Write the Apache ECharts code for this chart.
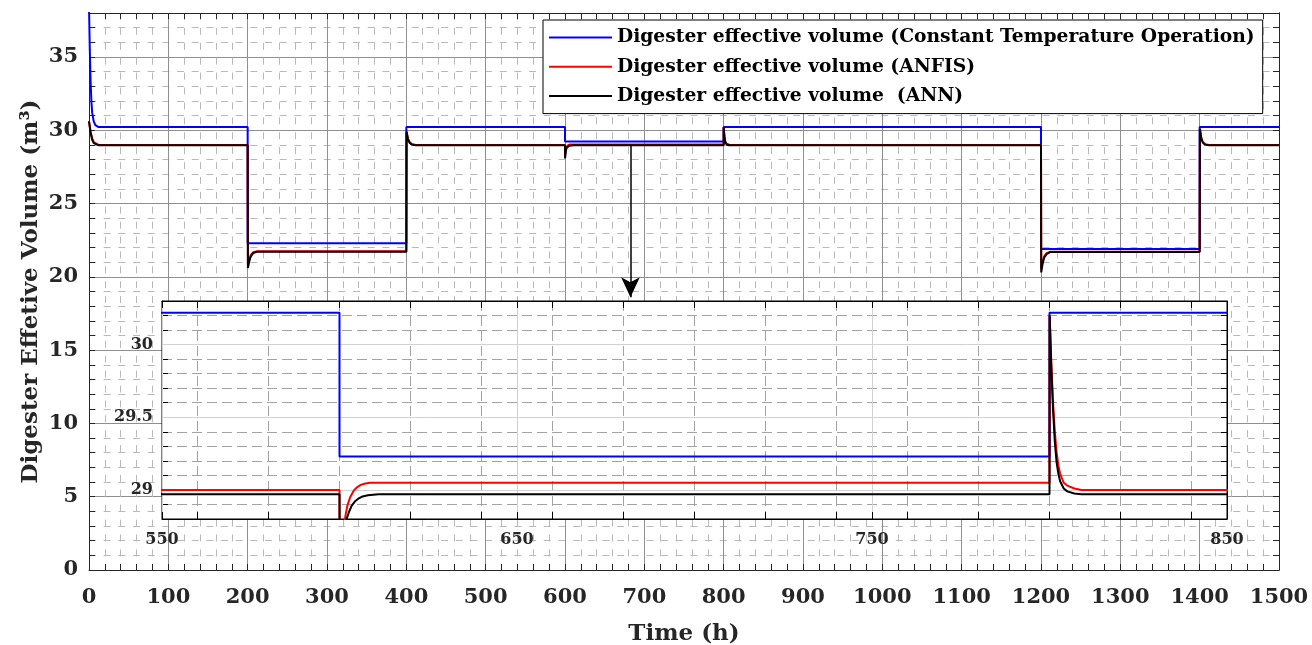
<!DOCTYPE html>
<html><head><meta charset="utf-8">
<script src="https://cdn.jsdelivr.net/npm/echarts@6/dist/echarts.min.js"></script>
<style>html,body{margin:0;padding:0;background:#fff}#c{width:1312px;height:645px}</style>
</head><body><div id="c"></div>
<script>
// ---------- data ----------
const seriesNames = [
  'Digester effective volume (Constant Temperature Operation)',
  'Digester effective volume (ANFIS)',
  'Digester effective volume  (ANN)'
];
const seriesColors = ['#0000ff', '#ff0000', '#000000'];

const constTempData = [
  [0,38.5],[1,35.5],[2,33.4],[3,32.0],[4,31.2],[6,30.6],[8,30.35],[12,30.22],
  [200,30.22],[200,22.3],[400,22.3],[400,30.22],[600,30.22],[600,29.23],
  [800,29.23],[800,30.22],[1200,30.22],[1200,21.9],[1400,21.9],[1400,30.22],[1500,30.22]
];
const anfisData = [
  [0,30.6],[2,29.9],[4,29.45],[6,29.2],[8,29.07],[12,29.0],
  [200,29.0],[200.3,20.8],[202,21.2],[204,21.5],[207,21.68],[212,21.75],
  [400,21.75],[400.3,29.9],[402,29.45],[404,29.2],[407,29.06],[412,29.0],
  [600,29.0],[600.1,28.3],[601,28.6],[601.6,28.81],[602.2,28.89],[603,28.95],[604,28.995],
  [605,29.02],[606,29.035],[607,29.043],[608.5,29.05],
  [800,29.05],[800.05,30.2],[800.5,29.88],[801,29.6],[801.5,29.4],[802,29.26],[802.5,29.17],
  [803,29.11],[804,29.05],[805,29.03],[807,29.01],[809,29.0],
  [1200,29.0],[1200.3,20.5],[1202,21.0],[1204,21.4],[1207,21.62],[1212,21.72],
  [1400,21.72],[1400.3,30.1],[1402,29.5],[1404,29.2],[1407,29.05],[1412,29.0],[1500,29.0]
];
const annData = [
  [0,30.6],[2,29.85],[4,29.35],[6,29.12],[8,29.02],[12,28.97],
  [200,28.97],[200.3,20.6],[202,21.05],[204,21.4],[207,21.62],[212,21.72],
  [400,21.72],[400.3,29.9],[402,29.4],[404,29.15],[407,29.02],[412,28.97],
  [600,28.97],[600.1,28.08],[601,28.55],[602,28.8],[602.7,28.85],[603.4,28.89],[604.3,28.92],
  [605.3,28.94],[606.5,28.955],[608,28.963],[611,28.97],
  [800,28.97],[800.05,30.2],[800.5,29.85],[801,29.55],[801.5,29.33],[802,29.19],[802.5,29.11],
  [803,29.06],[804,29.01],[805,28.99],[807,28.975],[809,28.97],
  [1200,28.97],[1200.3,20.3],[1202,20.9],[1204,21.3],[1207,21.55],[1212,21.7],
  [1400,21.7],[1400.3,30.1],[1402,29.45],[1404,29.15],[1407,29.02],[1412,28.97],[1500,28.97]
];
const arrowX = 682.5;
const arrowY = [28.97, 18.6];

// axis ranges
const mainX = [0, 1500], mainXStep = 100;
const mainY = [0, 38], mainYStep = 5, mainYMinor = 1;
const insetX = [550, 850], insetXStep = 100;
const insetXMinor = [560, 840], insetXMinorStep = 20;
const insetY = [28.8, 30.3], insetYMinorStep = 0.1;
const insetYMajor = [29, 30], insetYStep = 0.5;

// ---------- style ----------
const SERIF = "'DejaVu Serif', serif";
const AX = '#262626';
const MAJ = '#8f8f8f', MIN = '#b9b9b9';
const IMAJ = '#d2d2d2', IMIN = '#a3a3a3';

function tickAxis(extra) {
  return Object.assign({
    type: 'value',
    axisLine: { show: true, onZero: false, lineStyle: { color: AX, width: 1 } },
    axisTick: { show: true, inside: true, length: 6, lineStyle: { color: AX } },
    axisLabel: { show: false },
    splitLine: { show: false }
  }, extra);
}

const chart = echarts.init(document.getElementById('c'), null, { renderer: 'canvas' });

const option = {
  animation: false,
  backgroundColor: '#fff',
  grid: [
    { left: 89, right: 33, top: 13, bottom: 75, z: 0, containLabel: false, outerBoundsMode: 'none' },
    { left: 162, right: 85, top: 301, bottom: 126, show: true, backgroundColor: '#fff', borderColor: '#000', borderWidth: 1, z: 3, containLabel: false, outerBoundsMode: 'none' },
    { left: 197.5, right: 120.5, top: 301, bottom: 126, z: 3, containLabel: false, outerBoundsMode: 'none' },
    { left: 162, right: 85, top: 344.6, bottom: 155.1, z: 3, containLabel: false, outerBoundsMode: 'none' }
  ],
  legend: {
    data: seriesNames,
    orient: 'vertical',
    left: 543, top: 20,
    padding: [8, 8, 8, 6],
    itemGap: 10.3,
    itemWidth: 63, itemHeight: 2,
    icon: 'rect',
    backgroundColor: '#fff',
    borderColor: '#000', borderWidth: 1,
    textStyle: { fontFamily: SERIF, fontWeight: 'bold', fontSize: 18.7, color: '#000' },
    z: 10
  },
  xAxis: [
    tickAxis({ gridIndex: 0, position: 'bottom', min: mainX[0], max: mainX[1], interval: mainXStep,
      minorTick: { show: true, splitNumber: 5, length: 6, lineStyle: { color: AX } },
      splitLine: { show: true, lineStyle: { color: MAJ, width: 1 } },
      minorSplitLine: { show: true, lineStyle: { color: MIN, width: 1, type: [7, 7.9] } },
      axisLabel: { show: true, margin: 17, fontFamily: SERIF, fontWeight: 'bold', fontSize: 21, color: AX,
        formatter: v => String(v) },
      name: 'Time (h)', nameLocation: 'middle', nameGap: 53,
      nameTextStyle: { fontFamily: SERIF, fontWeight: 'bold', fontSize: 23, color: AX }, z: 1 }),
    tickAxis({ gridIndex: 0, position: 'top', min: mainX[0], max: mainX[1], interval: mainXStep,
      minorTick: { show: true, splitNumber: 5, length: 6, lineStyle: { color: AX } }, z: 1 }),
    tickAxis({ gridIndex: 1, position: 'bottom', min: insetX[0], max: insetX[1], interval: insetXStep,
      axisTick: { show: true, inside: true, length: 7, lineStyle: { color: '#000' } },
      axisLine: { show: true, onZero: false, lineStyle: { color: '#000' } },
      splitLine: { show: true, lineStyle: { color: IMAJ, width: 1 } },
      axisLabel: { show: true, margin: 13, fontFamily: SERIF, fontWeight: 'bold', fontSize: 16, color: AX,
        formatter: v => String(v) }, z: 5 }),
    tickAxis({ gridIndex: 1, position: 'top', min: insetX[0], max: insetX[1], interval: insetXStep,
      axisTick: { show: true, inside: true, length: 7, lineStyle: { color: '#000' } },
      axisLine: { show: true, onZero: false, lineStyle: { color: '#000' } }, z: 5 }),
    tickAxis({ gridIndex: 2, position: 'bottom', min: insetXMinor[0], max: insetXMinor[1], interval: insetXMinorStep,
      axisLine: { show: false, onZero: false },
      axisTick: { show: true, inside: true, length: 7, lineStyle: { color: '#000' } },
      splitLine: { show: true, lineStyle: { color: IMIN, width: 1, type: [10, 5] } }, z: 4 }),
    tickAxis({ gridIndex: 2, position: 'top', min: insetXMinor[0], max: insetXMinor[1], interval: insetXMinorStep,
      axisLine: { show: false, onZero: false },
      axisTick: { show: true, inside: true, length: 7, lineStyle: { color: '#000' } }, z: 4 }),
    { type: 'value', gridIndex: 3, show: false, min: 0, max: 1 }
  ],
  yAxis: [
    tickAxis({ gridIndex: 0, position: 'left', min: mainY[0], max: mainY[1], interval: mainYStep,
      splitLine: { show: true, lineStyle: { color: MAJ, width: 1 } },
      axisLabel: { show: true, margin: 11, fontFamily: SERIF, fontWeight: 'bold', fontSize: 21, color: AX,
        formatter: v => (v % mainYStep === 0 ? String(v) : '') },
      name: 'Digester Effetive Volume (m³)', nameLocation: 'middle', nameGap: 46, nameMoveOverlap: false,
      nameTextStyle: { fontFamily: SERIF, fontWeight: 'bold', fontSize: 23, color: AX }, z: 1 }),
    tickAxis({ gridIndex: 0, position: 'left', min: mainY[0], max: mainY[1], interval: mainYMinor,
      splitLine: { show: true, lineStyle: { color: MIN, width: 1, type: [7, 7.67] } }, z: 0 }),
    tickAxis({ gridIndex: 0, position: 'right', min: mainY[0], max: mainY[1], interval: mainYStep, z: 1 }),
    tickAxis({ gridIndex: 0, position: 'right', min: mainY[0], max: mainY[1], interval: mainYMinor, z: 1 }),
    tickAxis({ gridIndex: 1, position: 'left', min: insetY[0], max: insetY[1], interval: insetYMinorStep,
      axisLine: { show: true, onZero: false, lineStyle: { color: '#000' } },
      axisTick: { show: true, inside: true, length: 6, lineStyle: { color: '#000' } },
      splitLine: { show: true, lineStyle: { color: IMIN, width: 1, type: [10, 5] } }, z: 4 }),
    tickAxis({ gridIndex: 1, position: 'right', min: insetY[0], max: insetY[1], interval: insetYMinorStep,
      axisLine: { show: true, onZero: false, lineStyle: { color: '#000' } },
      axisTick: { show: true, inside: true, length: 6, lineStyle: { color: '#000' } }, z: 5 }),
    tickAxis({ gridIndex: 3, position: 'left', min: insetYMajor[0], max: insetYMajor[1], interval: insetYStep,
      axisLine: { show: false, onZero: false },
      axisTick: { show: false },
      splitLine: { show: true, lineStyle: { color: IMAJ, width: 1 } },
      axisLabel: { show: true, margin: 9, fontFamily: SERIF, fontWeight: 'bold', fontSize: 16, color: AX }, z: 5 }),
    { type: 'value', gridIndex: 2, show: false, min: 0, max: 1 }
  ],
  series: [
    { name: seriesNames[0], type: 'line', data: constTempData, xAxisIndex: 0, yAxisIndex: 0,
      symbol: 'none', lineStyle: { color: seriesColors[0], width: 2 }, itemStyle: { color: seriesColors[0] }, z: 2 },
    { name: seriesNames[1], type: 'line', data: anfisData, xAxisIndex: 0, yAxisIndex: 0,
      symbol: 'none', lineStyle: { color: seriesColors[1], width: 2 }, itemStyle: { color: seriesColors[1] }, z: 2 },
    { name: seriesNames[2], type: 'line', data: annData, xAxisIndex: 0, yAxisIndex: 0,
      symbol: 'none', lineStyle: { color: seriesColors[2], width: 2 }, itemStyle: { color: seriesColors[2] }, z: 2,
      markLine: { silent: true, symbol: ['none', 'arrow'], symbolSize: [14, 20],
        label: { show: false }, lineStyle: { color: '#000', width: 1.5, type: 'solid' },
        data: [[{ coord: [arrowX, arrowY[0]] }, { coord: [arrowX, arrowY[1]] }]] } },
    { name: seriesNames[0], type: 'line', data: constTempData, xAxisIndex: 2, yAxisIndex: 4,
      symbol: 'none', clip: true, lineStyle: { color: seriesColors[0], width: 2 }, itemStyle: { color: seriesColors[0] }, z: 7 },
    { name: seriesNames[1], type: 'line', data: anfisData, xAxisIndex: 2, yAxisIndex: 4,
      symbol: 'none', clip: true, lineStyle: { color: seriesColors[1], width: 2 }, itemStyle: { color: seriesColors[1] }, z: 7 },
    { name: seriesNames[2], type: 'line', data: annData, xAxisIndex: 2, yAxisIndex: 4,
      symbol: 'none', clip: true, lineStyle: { color: seriesColors[2], width: 2 }, itemStyle: { color: seriesColors[2] }, z: 7 }
  ]
};
chart.setOption(option);
</script></body></html>
